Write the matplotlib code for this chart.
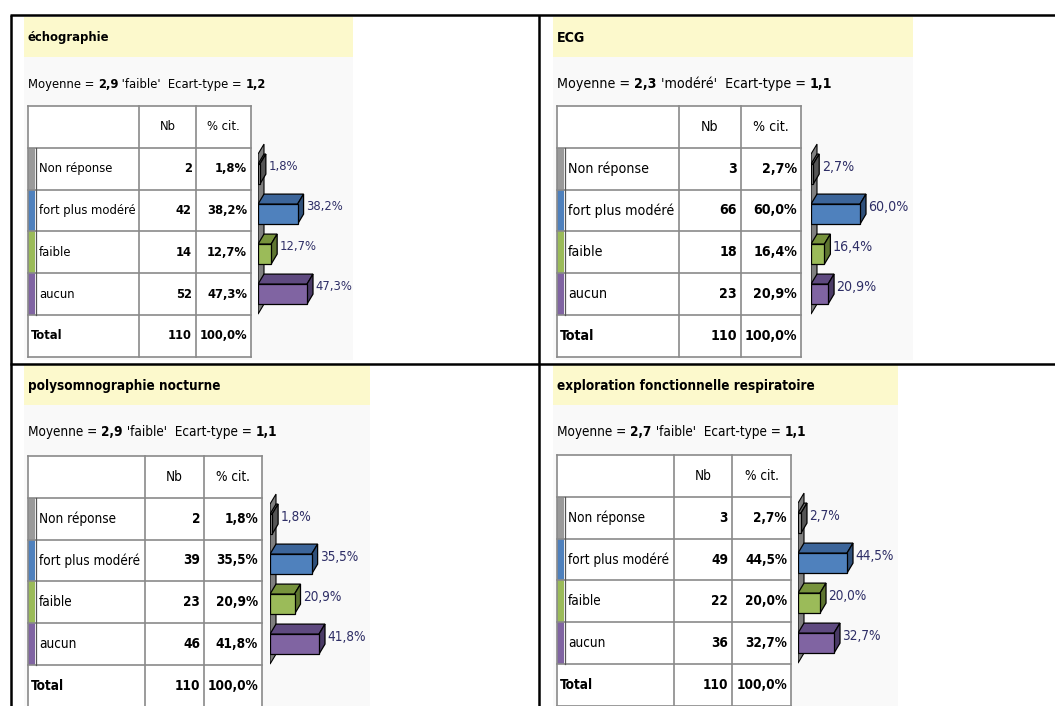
import matplotlib
matplotlib.use('Agg')
import matplotlib.pyplot as plt
from matplotlib import font_manager
from matplotlib.patches import Rectangle, Polygon

titles = ['échographie', 'ECG', 'polysomnographie nocturne',
          'exploration fonctionnelle respiratoire']
moyennes = ['2,9', '2,3', '2,9', '2,7']
moy_labels = ["'faible'", "'modéré'", "'faible'", "'faible'"]
ecarts = ['1,2', '1,1', '1,1', '1,1']
categories = ['Non réponse', 'fort plus modéré', 'faible', 'aucun']
counts = [[2, 42, 14, 52], [3, 66, 18, 23], [2, 39, 23, 46], [3, 49, 22, 36]]
percents = [[1.8, 38.2, 12.7, 47.3], [2.7, 60.0, 16.4, 20.9],
            [1.8, 35.5, 20.9, 41.8], [2.7, 44.5, 20.0, 32.7]]
totals = [110, 110, 110, 110]
total_pct = '100,0%'

front = ['#9a9a9a', '#4f81bd', '#9bbb59', '#8064a2']
topc = ['#6e6e6e', '#3c659a', '#77933c', '#5f4a80']
sidec = ['#555555', '#2f507a', '#5e7530', '#4a3a66']

# look for a narrow face, the original uses a condensed sans
fl = font_manager.fontManager.ttflist
names = {f.name for f in fl}
STRETCH = 'normal'
if 'Noto Sans ExtraCondensed' in names:
    FAM, BASE = 'Noto Sans ExtraCondensed', 12.0
elif 'Liberation Sans Narrow' in names:
    FAM, BASE = 'Liberation Sans Narrow', 10.8
elif 'Noto Sans Condensed' in names:
    FAM, BASE = 'Noto Sans Condensed', 10.2
elif any(f.name == 'DejaVu Sans' and f.stretch == 'condensed' for f in fl):
    FAM, BASE, STRETCH = 'DejaVu Sans', 9.3, 'condensed'
else:
    FAM, BASE = 'Liberation Sans', 9.5
plt.rcParams['font.family'] = FAM
plt.rcParams['font.stretch'] = STRETCH

W, H = 1055, 706
fig = plt.figure(figsize=(W / 100, H / 100), dpi=100)
ax = fig.add_axes([0, 0, 1, 1])
ax.set_xlim(0, W)
ax.set_ylim(H, 0)
ax.axis('off')

# outer frame lines
lk = dict(color='black', lw=1.8, solid_capstyle='butt')
ax.plot([10, W], [15, 15], **lk)
ax.plot([10, W], [364, 364], **lk)
ax.plot([11, 11], [15, H], **lk)
ax.plot([539, 539], [15, H], **lk)

panels = [
    dict(x0=24, y0=17, bw=329, cols=[28, 139, 196, 251], top=106, bot=360, wall=258),
    dict(x0=553, y0=17, bw=360, cols=[557, 679, 741, 801], top=106, bot=360, wall=811),
    dict(x0=24, y0=365, bw=346, cols=[28, 145, 204, 262], top=456, bot=706, wall=270),
    dict(x0=553, y0=365, bw=345, cols=[557, 674, 732, 791], top=455, bot=706, wall=798),
]
rh = 41.8
grid_c = '#8a8a8a'

def pct(v):
    return ('%.1f' % v).replace('.', ',') + '%'

for k, p in enumerate(panels):
    x0, y0, cols, top = p['x0'], p['y0'], p['cols'], p['top']
    sc = (cols[3] - cols[0]) / 223.0
    fs = BASE * sc

    ax.add_patch(Rectangle((x0, y0 + 40), p['bw'], p['bot'] - y0 - 40, fc='#f9f9f9', ec='none'))
    ax.add_patch(Rectangle((x0, y0), p['bw'], 40, fc='#fcf9cc', ec='none'))
    ax.text(x0 + 4, y0 + 21, titles[k], fontsize=fs, fontweight='bold', va='center', ha='left')

    # subtitle with bold numbers
    t = ax.text(x0 + 4, y0 + 74, 'Moyenne = ', fontsize=fs, va='bottom', ha='left')
    for s, wgt in [(moyennes[k], 'bold'), (' ' + moy_labels[k] + '  Ecart-type = ', 'normal'),
                   (ecarts[k], 'bold')]:
        t = ax.annotate(s, xy=(1, 0), xycoords=t, va='bottom', ha='left',
                        fontsize=fs, fontweight=wgt)

    # table
    tb = top + 6 * rh
    ax.add_patch(Rectangle((cols[0], top), cols[3] - cols[0], 6 * rh, fc='white', ec='none'))
    for r in range(7):
        ax.plot([cols[0], cols[3]], [top + r * rh] * 2, color=grid_c, lw=1.2)
    for c in cols:
        ax.plot([c, c], [top, tb], color=grid_c, lw=1.2)
    for i in range(4):
        ax.add_patch(Rectangle((cols[0], top + (i + 1) * rh), 7, rh, fc=front[i], ec='none'))
    ax.plot([cols[0] + 8, cols[0] + 8], [top + rh, top + 5 * rh], color='#555555', lw=0.9)

    ax.text((cols[1] + cols[2]) / 2, top + rh / 2, 'Nb', fontsize=fs, ha='center', va='center')
    ax.text((cols[2] + cols[3]) / 2, top + rh / 2, '% cit.', fontsize=fs, ha='center', va='center')
    for i, cat in enumerate(categories):
        yc = top + (i + 1.5) * rh
        ax.text(cols[0] + 11, yc, cat, fontsize=fs, ha='left', va='center')
        ax.text(cols[2] - 4, yc, str(counts[k][i]), fontsize=fs, fontweight='bold',
                ha='right', va='center')
        ax.text(cols[3] - 4, yc, pct(percents[k][i]), fontsize=fs, fontweight='bold',
                ha='right', va='center')
    yc = top + 5.5 * rh
    ax.text(cols[0] + 3, yc, 'Total', fontsize=fs, fontweight='bold', ha='left', va='center')
    ax.text(cols[2] - 4, yc, str(totals[k]), fontsize=fs, fontweight='bold', ha='right', va='center')
    ax.text(cols[3] - 4, yc, total_pct, fontsize=fs, fontweight='bold', ha='right', va='center')

    # 3D-looking bars
    vals = percents[k]
    ppp = 49.0 / max(vals)          # pixels per percent
    bw_px = 140
    pc = top + 4.5 * rh             # centre of last bar
    bax = fig.add_axes([p['wall'] / W, 1 - (pc + 40) / H, bw_px / W, 200 / H])
    bax.set_xlim(0, bw_px / ppp)
    bax.set_ylim(4, -1)
    bax.set_facecolor('none')
    bax.axis('off')
    dx = 6 / ppp
    dy = 0.25
    bax.add_patch(Polygon([(0, -0.5), (dx, -0.75), (dx, 3.25), (0, 3.5)], closed=True,
                          fc='#7f7f7f', ec='black', lw=0.8, zorder=1))
    bax.barh(range(4), vals, height=0.5, color=front, edgecolor='black', linewidth=0.9, zorder=3)
    for i, v in enumerate(vals):
        bax.add_patch(Polygon([(0, i - 0.25), (v, i - 0.25), (v + dx, i - 0.5), (dx, i - 0.5)],
                              closed=True, fc=topc[i], ec='black', lw=0.9, zorder=2))
        bax.add_patch(Polygon([(v, i - 0.25), (v + dx, i - 0.5), (v + dx, i), (v, i + 0.25)],
                              closed=True, fc=sidec[i], ec='black', lw=0.9, zorder=2))
        bax.text(v + dx + 2.5 / ppp, i - 0.18, pct(v), fontsize=fs, color='#2e2e66',
                 ha='left', va='center')

fig.savefig('out.png', dpi=100)
